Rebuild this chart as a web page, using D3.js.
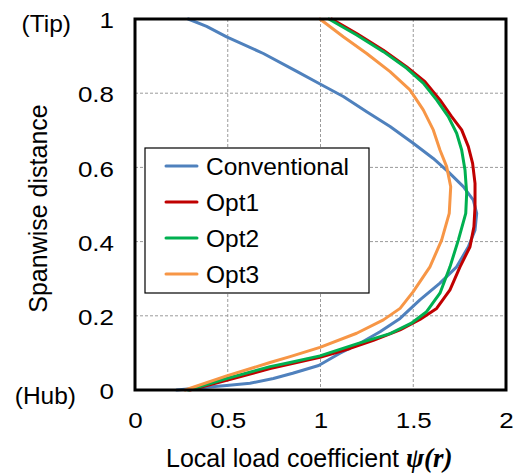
<!DOCTYPE html>
<html>
<head>
<meta charset="utf-8">
<script src="https://cdn.jsdelivr.net/npm/d3@7/dist/d3.min.js"></script>
<style>
  html, body { margin: 0; padding: 0; background: #fff; }
  svg { display: block; }
  text { font-family: "Liberation Sans", Arial, sans-serif; fill: #000; }
</style>
</head>
<body>
<svg id="chart" width="518" height="474"></svg>
<script>
// ---- data ----
const xTicks = [0, 0.5, 1, 1.5, 2];
const yTicks = [0, 0.2, 0.4, 0.6, 0.8, 1];
const xTickLabels = ["0", "0.5", "1", "1.5", "2"];
const yTickLabels = ["0", "0.2", "0.4", "0.6", "0.8", "1"];
const seriesNames = ["Conventional", "Opt1", "Opt2", "Opt3"];
const seriesColors = ["#4F81BD", "#C00000", "#00B050", "#F79646"];

// Spanwise distance (r) and local load coefficient psi(r) for each series
const conventionalR   = [0, 0.007, 0.012, 0.018, 0.031, 0.045, 0.066, 0.099, 0.126, 0.157, 0.193, 0.243, 0.288, 0.332, 0.386, 0.431, 0.476, 0.512, 0.548, 0.588, 0.624, 0.665, 0.710, 0.750, 0.791, 0.824, 0.859, 0.907, 0.952, 0.980, 1.0];
const conventionalPsi = [0.225, 0.368, 0.494, 0.620, 0.746, 0.850, 0.990, 1.105, 1.213, 1.321, 1.429, 1.536, 1.644, 1.734, 1.797, 1.833, 1.842, 1.824, 1.770, 1.689, 1.608, 1.500, 1.375, 1.249, 1.123, 1.000, 0.872, 0.692, 0.494, 0.386, 0.287];

const opt1R   = [0, 0.026, 0.058, 0.088, 0.112, 0.134, 0.162, 0.190, 0.220, 0.270, 0.332, 0.386, 0.440, 0.494, 0.557, 0.611, 0.656, 0.701, 0.737, 0.782, 0.831, 0.871, 0.916, 0.961, 1.0];
const opt1Psi = [0.296, 0.494, 0.728, 0.997, 1.159, 1.285, 1.429, 1.536, 1.626, 1.698, 1.752, 1.806, 1.827, 1.833, 1.833, 1.820, 1.797, 1.761, 1.707, 1.644, 1.563, 1.465, 1.339, 1.195, 1.060];

const opt2R   = [0, 0.031, 0.063, 0.074, 0.092, 0.125, 0.152, 0.180, 0.211, 0.261, 0.332, 0.404, 0.476, 0.530, 0.593, 0.647, 0.692, 0.737, 0.782, 0.827, 0.867, 0.912, 0.957, 1.0];
const opt2Psi = [0.287, 0.494, 0.728, 0.836, 0.997, 1.200, 1.375, 1.490, 1.572, 1.644, 1.698, 1.743, 1.783, 1.788, 1.779, 1.761, 1.734, 1.689, 1.626, 1.554, 1.465, 1.339, 1.195, 1.045];

const opt3R   = [0, 0.038, 0.074, 0.090, 0.115, 0.153, 0.189, 0.220, 0.265, 0.332, 0.404, 0.476, 0.548, 0.602, 0.647, 0.701, 0.755, 0.809, 0.858, 0.907, 0.952, 1.0];
const opt3Psi = [0.270, 0.494, 0.728, 0.836, 0.997, 1.195, 1.339, 1.429, 1.500, 1.590, 1.653, 1.694, 1.702, 1.680, 1.644, 1.608, 1.554, 1.482, 1.375, 1.249, 1.123, 0.997];

const seriesR = [conventionalR, opt1R, opt2R, opt3R];
const seriesPsi = [conventionalPsi, opt1Psi, opt2Psi, opt3Psi];

// ---- layout ----
const plot = { left: 135, top: 19, right: 506, bottom: 390 };
const svg = d3.select("#chart");

const x = d3.scaleLinear().domain([0, 2]).range([plot.left, plot.right]);
const y = d3.scaleLinear().domain([0, 1]).range([plot.bottom, plot.top]);

// gridlines
const grid = svg.append("g");
grid.selectAll("line.gx").data(xTicks.slice(1, -1)).enter().append("line")
  .attr("x1", d => x(d)).attr("x2", d => x(d))
  .attr("y1", plot.top).attr("y2", plot.bottom)
  .attr("stroke", "#9a9a9a").attr("stroke-width", 1).attr("stroke-dasharray", "3,2");
grid.selectAll("line.gy").data(yTicks.slice(1, -1)).enter().append("line")
  .attr("x1", plot.left).attr("x2", plot.right)
  .attr("y1", d => y(d)).attr("y2", d => y(d))
  .attr("stroke", "#9a9a9a").attr("stroke-width", 1).attr("stroke-dasharray", "3,2");

// series lines
const line = d3.line().x(d => x(d[0])).y(d => y(d[1]));
seriesNames.forEach((name, i) => {
  const pts = seriesPsi[i].map((v, j) => [v, seriesR[i][j]]);
  svg.append("path")
    .datum(pts)
    .attr("d", line)
    .attr("fill", "none")
    .attr("stroke", seriesColors[i])
    .attr("stroke-width", 3)
    .attr("stroke-linejoin", "round")
    .attr("stroke-linecap", "round");
});

// frame
svg.append("rect")
  .attr("x", plot.left).attr("y", plot.top)
  .attr("width", plot.right - plot.left).attr("height", plot.bottom - plot.top)
  .attr("fill", "none").attr("stroke", "#000").attr("stroke-width", 3);

// axes (labels only)
const xAxis = d3.axisBottom(x).tickValues(xTicks).tickFormat((d, i) => xTickLabels[i]).tickSize(0).tickPadding(0);
const gx = svg.append("g").attr("transform", `translate(0,${plot.bottom + 22})`).call(xAxis);
gx.select(".domain").remove();
gx.selectAll("text").attr("font-size", 22).attr("font-family", "Liberation Sans, Arial, sans-serif")
  .attr("dy", "0.71em").attr("y", 0).attr("fill", "#000").attr("transform", "scale(1.18,1)");

const yAxis = d3.axisLeft(y).tickValues(yTicks).tickFormat((d, i) => yTickLabels[i]).tickSize(0).tickPadding(0);
const gy = svg.append("g").attr("transform", `translate(${plot.left - 21},1)`).call(yAxis);
gy.select(".domain").remove();
gy.selectAll("text").attr("font-size", 22).attr("font-family", "Liberation Sans, Arial, sans-serif")
  .attr("dy", "0.35em").attr("x", 0).attr("fill", "#000").attr("transform", "scale(1.18,1)");

// Tip / Hub
svg.append("text").attr("x", 71).attr("y", y(1) + 4).attr("dy", "0.35em")
  .attr("text-anchor", "end").attr("font-size", 24.5).text("(Tip)");
svg.append("text").attr("x", 76).attr("y", y(0) + 5).attr("dy", "0.35em")
  .attr("text-anchor", "end").attr("font-size", 24.5).text("(Hub)");

// axis titles
const xt = svg.append("text").attr("x", 166).attr("y", 467).attr("font-size", 25);
xt.append("tspan").text("Local load coefficient ");
xt.append("tspan").attr("font-family", "Liberation Serif, Times New Roman, serif")
  .attr("font-style", "italic").attr("font-weight", "bold").attr("font-size", 27).text("ψ(r)");

svg.append("text")
  .attr("transform", `translate(47,${(plot.top + plot.bottom) / 2 + 4}) rotate(-90)`)
  .attr("text-anchor", "middle").attr("font-size", 25).text("Spanwise distance");

// legend
const lg = svg.append("g");
lg.append("rect").attr("x", 145).attr("y", 148).attr("width", 224).attr("height", 145)
  .attr("fill", "#fff").attr("stroke", "#000").attr("stroke-width", 1.2);
const legendRows = [166, 202, 238, 274];
seriesNames.forEach((name, i) => {
  lg.append("line").attr("x1", 166).attr("x2", 197)
    .attr("y1", legendRows[i]).attr("y2", legendRows[i])
    .attr("stroke", seriesColors[i]).attr("stroke-width", 3).attr("stroke-linecap", "round");
  lg.append("text").attr("x", 206).attr("y", legendRows[i]).attr("dy", "0.35em")
    .attr("font-size", 24.5).text(name);
});
</script>
</body>
</html>
